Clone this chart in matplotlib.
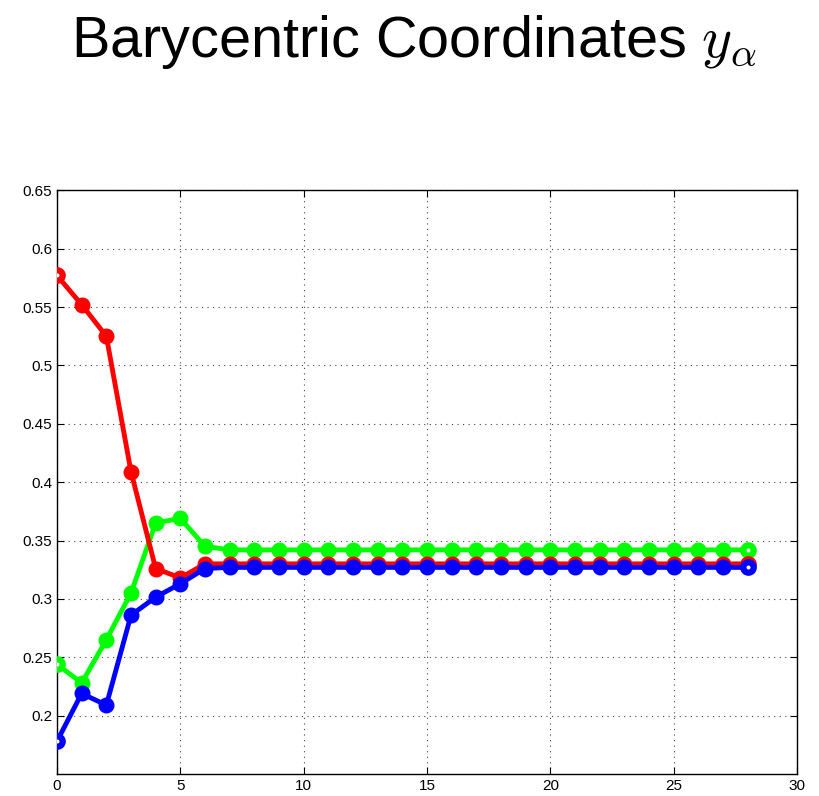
import matplotlib
matplotlib.use("Agg")
import matplotlib.pyplot as plt
import numpy as np

plt.rcParams['font.family'] = ['Liberation Sans', 'DejaVu Sans']
plt.rcParams['mathtext.fontset'] = 'cm'

# barycentric coordinates per iteration
iterations = list(range(29))
y_red = [0.577, 0.552, 0.525, 0.409, 0.326, 0.318] + [0.330] * 23
y_green = [0.244, 0.228, 0.265, 0.305, 0.365, 0.369, 0.345] + [0.342] * 22
y_blue = [0.178, 0.219, 0.209, 0.286, 0.3015, 0.313, 0.326] + [0.327] * 22

x_ticks = [0, 5, 10, 15, 20, 25, 30]
y_ticks = [0.2, 0.25, 0.3, 0.35, 0.4, 0.45, 0.5, 0.55, 0.6, 0.65]

fig = plt.figure(figsize=(8.2, 7.96), dpi=100)
ax = fig.add_axes([0.0695, 0.0276, 0.9025, 0.7334])

series = [(y_green, '#00ff00'), (y_red, '#ff0000'), (y_blue, '#0000ff')]
for ys, col in series:
    ax.plot(iterations, ys, '-', color=col, lw=3.5, zorder=3)
    # inner points drawn filled, end points drawn as open circles
    ax.plot(iterations[1:-1], ys[1:-1], 'o', color=col, ms=9, mew=2.5, zorder=3)
    ax.plot([iterations[0], iterations[-1]], [ys[0], ys[-1]], 'o', color=col,
            mfc='white', mec=col, ms=7.5, mew=4.5, zorder=3)

ax.set_xlim(0, 30)
ax.set_ylim(0.15, 0.65)
ax.set_xticks(x_ticks)
ax.set_yticks(y_ticks)
ax.set_yticklabels([f"{v:g}" for v in y_ticks])
ax.tick_params(direction='in', top=True, right=True, labelsize=11, length=5, width=0.8)
ax.grid(True, linestyle=(0, (1, 4)), color='#444444', linewidth=0.8)
for sp in ax.spines.values():
    sp.set_linewidth(1.0)

fig.text(0.505, 0.928, r"Barycentric Coordinates $y_\alpha$", ha='center', va='baseline',
         fontsize=41.5)

fig.savefig("out.png", dpi=100)
